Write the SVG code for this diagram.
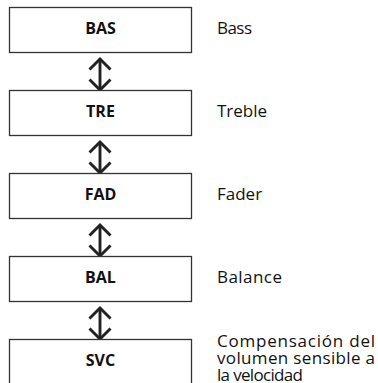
<svg xmlns="http://www.w3.org/2000/svg" width="378" height="383" viewBox="0 0 378 383">
<style>
.box{fill:#fff;stroke:#333;stroke-width:1.3}
.lbl{font-family:"Open Sans","Noto Sans",sans-serif;font-weight:bold;font-size:16px;fill:#111;text-anchor:middle}
.desc{font-family:"Open Sans","Noto Sans",sans-serif;font-size:17px;fill:#111}
.arr{fill:none;stroke:#222;stroke-width:2.9}
</style>
<rect width="378" height="383" fill="#fff"/>
<g id="connectors">
<g class="arr"><path d="M100,59 V89"/><path d="M89.5,69.5 L100,59 L110.5,69.5"/><path d="M89.5,79.5 L100,90 L110.5,79.5"/></g>
<g class="arr" transform="translate(0,83)"><path d="M100,59 V89"/><path d="M89.5,69.5 L100,59 L110.5,69.5"/><path d="M89.5,79.5 L100,90 L110.5,79.5"/></g>
<g class="arr" transform="translate(0,166)"><path d="M100,59 V89"/><path d="M89.5,69.5 L100,59 L110.5,69.5"/><path d="M89.5,79.5 L100,90 L110.5,79.5"/></g>
<g class="arr" transform="translate(0,249)"><path d="M100,59 V89"/><path d="M89.5,69.5 L100,59 L110.5,69.5"/><path d="M89.5,79.5 L100,90 L110.5,79.5"/></g>
</g>
<g id="bas"><rect class="box" x="9.5" y="7.5" width="182" height="45"/><text class="lbl" x="100.5" y="33.5">BAS</text><text class="desc" x="217" y="34" textLength="35">Bass</text></g>
<g id="tre"><rect class="box" x="9.5" y="90.5" width="182" height="45"/><text class="lbl" x="100.5" y="116.5">TRE</text><text class="desc" x="217" y="117">Treble</text></g>
<g id="fad"><rect class="box" x="9.5" y="173.5" width="182" height="45"/><text class="lbl" x="100.5" y="199.5">FAD</text><text class="desc" x="217" y="200">Fader</text></g>
<g id="bal"><rect class="box" x="9.5" y="256.5" width="182" height="45"/><text class="lbl" x="100.5" y="282.5">BAL</text><text class="desc" x="217" y="283" textLength="65">Balance</text></g>
<g id="svc"><rect class="box" x="9.5" y="339.5" width="182" height="60"/><text class="lbl" x="100.5" y="365.5">SVC</text><text class="desc"><tspan x="217" y="346.5" textLength="158">Compensación del</tspan><tspan x="217" y="363.5" textLength="158">volumen sensible a</tspan><tspan x="217" y="380.5" textLength="86">la velocidad</tspan></text></g>
</svg>
